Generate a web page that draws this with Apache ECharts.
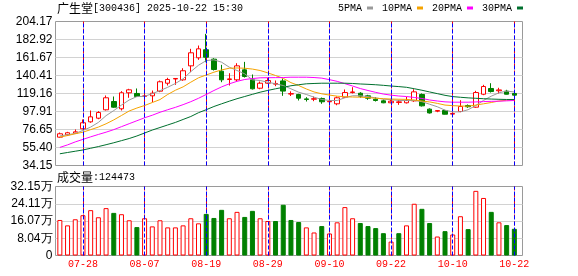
<!DOCTYPE html>
<html><head><meta charset="utf-8">
<script src="https://cdn.jsdelivr.net/npm/echarts@6/dist/echarts.min.js"></script>
<style>html,body{margin:0;padding:0;background:#fff}#c{width:578px;height:276px}</style>
</head><body><div id="c"></div>
<script>
const dates = ['07-23','07-24','07-25','07-28','07-29','07-30','07-31','08-01','08-04','08-05','08-06','08-07','08-08','08-11','08-12','08-13','08-14','08-15','08-18','08-19','08-20','08-21','08-22','08-25','08-26','08-27','08-28','08-29','09-01','09-02','09-03','09-04','09-05','09-08','09-09','09-10','09-11','09-12','09-15','09-16','09-17','09-18','09-19','09-22','09-23','09-24','09-25','09-26','09-29','09-30','10-09','10-10','10-13','10-14','10-15','10-16','10-17','10-20','10-21','10-22'];
const opens  = [67.6,70.4,72.3,77.5,85.7,90.0,99.9,109.7,101.1,120.0,119.2,115.8,116.4,121.9,131.3,136.3,135.3,151.8,161.3,170.8,159.7,145.5,135.7,135.3,147.1,135.3,125.4,131.3,130.2,134.0,118.5,118.0,112.8,112.4,113.3,109.4,107.0,114.8,120.3,119.5,116.4,112.4,110.5,108.2,108.6,108.2,110.5,118.0,100.7,98.3,99.1,94.8,97.9,105.0,103.0,118.3,125.1,122.4,121.9,119.2];
const closes = [71.6,72.8,73.9,84.6,91.6,96.7,114.1,103.0,120.0,123.5,115.6,116.3,119.5,133.0,135.7,136.9,146.0,167.2,171.9,162.0,147.5,135.3,136.4,151.8,139.2,124.7,131.3,134.5,131.0,122.0,119.0,113.6,112.1,113.0,109.4,110.0,114.1,120.3,121.0,116.0,113.6,110.9,108.2,110.1,109.3,110.9,121.1,104.6,96.2,99.0,94.7,95.6,103.8,103.5,120.3,127.4,121.5,123.4,118.3,117.2];
const lows   = [67.0,69.2,71.6,77.0,84.6,88.8,99.1,102.3,99.1,114.1,115.2,114.8,108.9,120.7,128.6,129.4,134.2,144.3,158.9,156.1,146.3,132.5,128.6,133.7,138.0,123.9,124.2,130.6,127.8,116.4,116.2,110.9,109.7,110.1,107.0,108.2,105.3,114.1,119.2,114.1,111.7,109.7,107.7,107.7,105.8,107.4,109.4,103.8,95.5,97.1,94.4,92.8,97.1,102.3,102.3,117.2,120.3,119.2,118.0,114.4];
const highs  = [73.1,73.9,76.7,88.5,99.1,98.3,116.8,115.6,121.9,124.7,125.1,129.0,122.7,134.5,137.7,137.0,149.0,171.9,175.8,189.6,160.8,153.0,143.1,154.9,156.5,141.6,133.3,137.7,134.5,136.9,121.7,118.8,114.8,115.6,114.4,112.4,115.6,123.9,126.6,120.7,117.6,114.8,112.1,112.9,111.7,115.3,124.2,119.2,101.6,99.4,99.9,97.1,111.2,106.2,122.3,129.4,131.3,125.9,123.5,121.9];
const ma5  = [69.0,70.5,72.0,75.5,79.5,85.0,93.0,99.0,105.5,111.5,115.5,115.8,119.0,122.5,126.5,131.0,136.5,145.0,152.5,158.0,158.9,156.1,150.2,146.3,142.4,135.3,134.5,132.5,130.6,128.6,124.7,120.7,118.0,114.8,112.1,110.9,110.9,114.1,116.5,116.5,115.5,114.0,112.5,111.8,111.0,110.8,110.9,109.5,106.5,103.5,99.5,97.5,97.5,100.0,105.0,111.0,116.0,120.0,122.0,121.0];
const ma10 = [67.6,69.5,71.6,73.5,76.5,79.5,83.4,88.0,93.2,98.5,102.0,105.0,108.5,112.0,118.0,123.0,127.0,132.5,137.7,141.0,144.3,147.0,149.0,149.3,149.0,148.0,146.3,143.5,140.4,137.0,132.0,128.6,124.5,121.0,118.8,117.3,116.0,115.3,115.0,114.8,114.3,113.6,113.0,112.6,112.4,112.2,111.5,110.3,109.2,107.5,105.5,104.8,104.4,104.2,105.5,107.0,108.5,110.3,111.2,111.7];
const ma20 = [55.5,58.5,62.0,65.0,68.0,70.8,73.5,76.5,80.0,83.5,87.0,90.5,93.5,97.0,100.0,102.8,106.0,109.5,113.5,118.0,122.7,127.0,130.6,133.5,135.7,136.8,137.7,137.8,137.9,138.0,138.4,138.4,138.4,138.0,137.3,135.5,133.5,130.8,128.0,125.0,122.7,120.5,118.5,117.2,116.2,115.6,114.5,113.3,111.5,110.3,109.3,108.9,108.9,108.9,109.2,109.6,109.9,110.1,110.5,110.9];
const ma30 = [48.0,49.5,51.0,52.5,54.5,56.5,58.7,61.0,63.5,66.0,69.0,72.5,76.0,79.0,82.0,85.0,88.5,92.0,96.5,100.0,103.8,107.0,110.1,113.0,115.6,118.2,120.7,122.8,124.7,126.5,128.3,129.5,130.6,131.0,131.3,131.3,131.3,131.3,131.0,130.4,130.0,129.5,128.8,128.0,127.3,126.5,124.8,123.0,121.0,119.0,117.0,115.5,114.7,114.0,113.5,113.0,112.6,112.3,112.1,112.1];
const volumes = [165500,140400,168800,187700,211300,178200,220800,198600,192400,164100,132400,173500,135700,164100,131000,131000,140400,173500,149900,193800,174900,212800,173500,203300,179700,208000,173500,160700,160700,236400,165500,156000,131000,107300,137100,102600,154600,225500,173500,151300,137100,127700,104000,64800,104000,140400,241100,217500,151300,88400,113500,97900,183000,122900,301200,268100,203300,154600,141800,124473];
const volUp = [1,1,1,1,1,1,1,0,1,1,0,1,1,1,1,1,1,1,1,0,0,0,1,1,0,0,1,1,0,0,0,0,1,1,0,1,1,1,1,0,0,0,0,1,0,1,1,0,0,1,0,1,1,0,1,1,0,1,0,0];
const priceTicks = ['34.15','55.40','76.65','97.91','119.16','140.41','161.67','182.92','204.17'];
const volTicks = ['0','8.04万','16.07万','24.11万','32.15万'];
const xTicks = ['07-28','08-07','08-19','08-29','09-10','09-22','10-10','10-22'];
const maNames = ['5PMA','10PMA','20PMA','30PMA'];

const pMin = parseFloat(priceTicks[0]);
const pMax = parseFloat(priceTicks[priceTicks.length-1]);
const pInt = (pMax - pMin) / (priceTicks.length - 1);
const vMax = parseFloat(volTicks[volTicks.length-1]) * 10000;
const vInt = vMax / (volTicks.length - 1);

const RED = '#ff0000', GREEN = '#008000';
const maColors = ['#9a9a9a','#f5a300','#ff00ff','#00702e'];
const maData = [ma5, ma10, ma20, ma30];

const axisFont = () => ({fontFamily:'Liberation Sans', fontSize:12, color:'#000'});
const frameGrid = () => ({show:true, borderColor:'#9a9a9a', borderWidth:1, backgroundColor:'transparent', containLabel:false, outerBoundsMode:'none'});
const dataGrid = () => ({containLabel:false, outerBoundsMode:'none'});
const richText = () => ({
  c:{fontFamily:'Noto Sans CJK SC', fontSize:12, fontWeight:'normal', color:'#000'},
  a:{fontFamily:'Liberation Mono', fontSize:10, fontWeight:'normal', color:'#000'}
});
const isTick = (i, v) => xTicks.includes(typeof v === 'string' ? v : dates[i]);
const vSplit = () => ({show:true, interval:isTick, alignWithLabel:true,
  lineStyle:{type:[4,3], color:'#ff0000', width:1}});
const vMark = () => ({symbol:['none','none'], silent:true, label:{show:false},
  lineStyle:{type:'dashed', color:'#0000ff', width:1}, data: xTicks.map(d => ({xAxis: d}))});

const chart = echarts.init(document.getElementById('c'), null, {renderer:'canvas'});
chart.setOption({
  animation:false,
  backgroundColor:'#fff',
  title:[
    {text:'{c|广生堂}{a|[300436] 2025-10-22 15:30}', left:57, top:2, padding:0,
     textStyle:{fontWeight:'normal', rich:richText()}},
    {text:'{c|成交量}{a|:' + volumes[volumes.length-1] + '}', left:57, top:171, padding:0,
     textStyle:{fontWeight:'normal', rich:richText()}}
  ],
  legend:{data:maNames, left:338, top:3, align:'right', icon:'rect', itemWidth:6, itemHeight:3, itemGap:9,
    selectedMode:false, padding:0, textStyle:{fontFamily:'Liberation Mono', fontSize:10, color:'#000'}},
  grid:[
    Object.assign({left:55.5, top:21.5, width:467, height:144}, frameGrid()),
    Object.assign({left:55.5, top:186.5, width:467, height:69}, frameGrid()),
    Object.assign({left:56, top:21.5, width:462.2, height:144}, dataGrid()),
    Object.assign({left:56, top:186.5, width:462.2, height:69}, dataGrid())
  ],
  xAxis:[
    {gridIndex:0, type:'value', min:0, max:1, show:false},
    {gridIndex:1, type:'value', min:0, max:1, show:false},
    {gridIndex:2, type:'category', data:dates.slice(), boundaryGap:true,
      axisLine:{show:false}, axisTick:{show:false}, axisLabel:{show:false}, splitLine:vSplit()},
    {gridIndex:3, type:'category', data:dates.slice(), boundaryGap:true,
      axisLine:{show:false}, axisTick:{show:false}, splitLine:vSplit(),
      axisLabel:{interval:isTick, color:RED, fontSize:10, fontFamily:'Liberation Mono', margin:4, hideOverlap:false}}
  ],
  yAxis:[
    {gridIndex:0, type:'value', min:pMin, max:pMax, interval:pInt,
      axisLine:{show:false}, axisTick:{show:false},
      splitLine:{show:true, showMinLine:false, showMaxLine:false, lineStyle:{color:'#d2d2d2', width:1}},
      axisLabel:Object.assign({margin:3, formatter:v => priceTicks[Math.round((v - pMin) / pInt)] || ''}, axisFont())},
    {gridIndex:1, type:'value', min:0, max:vMax, interval:vInt,
      axisLine:{show:false}, axisTick:{show:false},
      splitLine:{show:true, showMinLine:false, showMaxLine:false, lineStyle:{color:'#d2d2d2', width:1}},
      axisLabel:Object.assign({margin:3, formatter:v => volTicks[Math.round(v / vInt)] || ''}, axisFont())},
    {gridIndex:2, type:'value', min:pMin, max:pMax, show:false, splitLine:{show:false}},
    {gridIndex:3, type:'value', min:0, max:vMax, show:false, splitLine:{show:false}}
  ],
  series:[
    {type:'candlestick', name:'K', xAxisIndex:2, yAxisIndex:2, barWidth:5, z:3,
      data: dates.map((d, i) => [opens[i], closes[i], lows[i], highs[i]]),
      itemStyle:{color:'#ffffff', color0:GREEN, borderColor:RED, borderColor0:GREEN, borderWidth:1},
      markLine:vMark()},
    ...maNames.map((n, k) => ({
      type:'line', name:n, xAxisIndex:2, yAxisIndex:2, data:maData[k], symbol:'none', showSymbol:false,
      z:4, silent:true, lineStyle:{color:maColors[k], width:1}, itemStyle:{color:maColors[k]}
    })),
    {type:'bar', name:'VOL', xAxisIndex:3, yAxisIndex:3, barWidth:5, z:3,
      data: volumes.map((v, i) => ({value:v, itemStyle: volUp[i]
        ? {color:'#ffffff', borderColor:RED, borderWidth:1}
        : {color:GREEN, borderColor:GREEN, borderWidth:1}})),
      markLine:vMark()}
  ]
});
</script>
</body></html>
